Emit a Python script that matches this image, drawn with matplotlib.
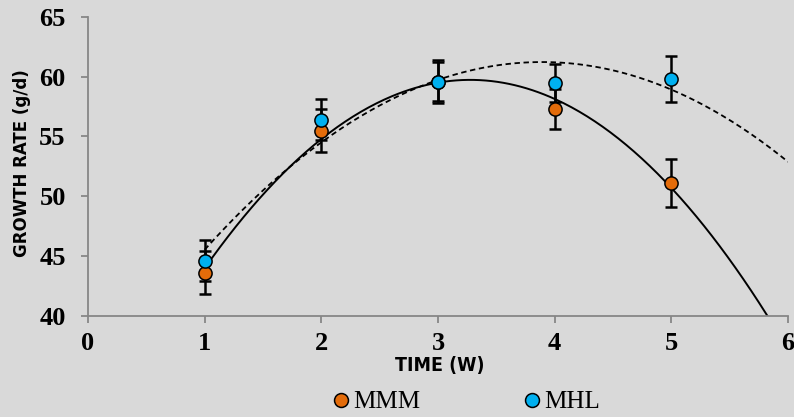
import numpy as np
import matplotlib
matplotlib.use("Agg")
import matplotlib.pyplot as plt
from matplotlib.lines import Line2D

# ---- data ----
weeks = [1, 2, 3, 4, 5]
mmm = [43.6, 55.5, 59.6, 57.3, 51.1]
mmm_err = [1.8, 1.8, 1.8, 1.7, 2.0]
mhl = [44.6, 56.4, 59.6, 59.5, 59.8]
mhl_err = [1.7, 1.7, 1.6, 1.6, 1.9]
series_names = ["MMM", "MHL"]
x_ticks = [0, 1, 2, 3, 4, 5, 6]
y_ticks = [40, 45, 50, 55, 60, 65]

bg = "#D9D9D9"
c_mmm = "#E46C0A"
c_mhl = "#00B0F0"
spine_c = "#868686"

fig = plt.figure(figsize=(7.94, 4.17), dpi=100, facecolor=bg)
ax = fig.add_axes([88/794, 1 - 315.7/417, 700/794, (315.7-17)/417])
ax.set_facecolor(bg)

# polynomial (order 2) trend lines, forecast forward to 6
xs = np.linspace(1, 6, 300)
p_mmm = np.polyfit(weeks, mmm, 2)
p_mhl = np.polyfit(weeks, mhl, 2)
ax.plot(xs, np.polyval(p_mmm, xs), color="black", lw=1.4, zorder=2)
ax.plot(xs, np.polyval(p_mhl, xs), color="black", lw=1.3, ls=(0, (3, 2)), zorder=2)

for vals, errs, col in [(mmm, mmm_err, c_mmm), (mhl, mhl_err, c_mhl)]:
    ax.errorbar(weeks, vals, yerr=errs, fmt="none", ecolor="black",
                elinewidth=1.8, capsize=4, capthick=1.8, zorder=3)
for vals, col in [(mmm, c_mmm), (mhl, c_mhl)]:
    ax.plot(weeks, vals, "o", ms=9.5, mfc=col, mec="black", mew=1.1,
            ls="none", zorder=4)

ax.set_xlim(0, 6)
ax.set_ylim(40, 65)
ax.set_xticks(x_ticks)
ax.set_yticks(y_ticks)
for s in ["top", "right"]:
    ax.spines[s].set_visible(False)
for s in ["left", "bottom"]:
    ax.spines[s].set_color(spine_c)
    ax.spines[s].set_linewidth(1.3)
ax.tick_params(axis="both", direction="out", length=5, width=1.3,
               color=spine_c, labelsize=19)
ax.tick_params(axis="y", pad=11)
ax.tick_params(axis="x", pad=7)
for lab in ax.get_xticklabels() + ax.get_yticklabels():
    lab.set_fontfamily("Liberation Serif")
    lab.set_fontweight("bold")

lab_font = dict(family=["DejaVu Sans"], stretch="condensed", weight="bold")
fig.text(440/794, 1 - 366/417, "TIME (W)", ha="center", va="center",
         size=14, **lab_font)
fig.text(22/794, 1 - 163/417, "GROWTH RATE (g/d)", ha="center", va="center",
         rotation=90, size=13.3, **lab_font)

handles = [Line2D([], [], marker="o", ls="none", ms=10, mfc=c, mec="black", mew=1.1)
           for c in (c_mmm, c_mhl)]
fig.legend(handles, series_names, loc="center", bbox_to_anchor=(464/794, 1 - 402/417),
           ncol=2, frameon=False, handletextpad=0.0, columnspacing=3.95,
           handlelength=1.0, prop=dict(family="Liberation Serif", size=18))

fig.savefig("out.png", dpi=100, facecolor=bg)
